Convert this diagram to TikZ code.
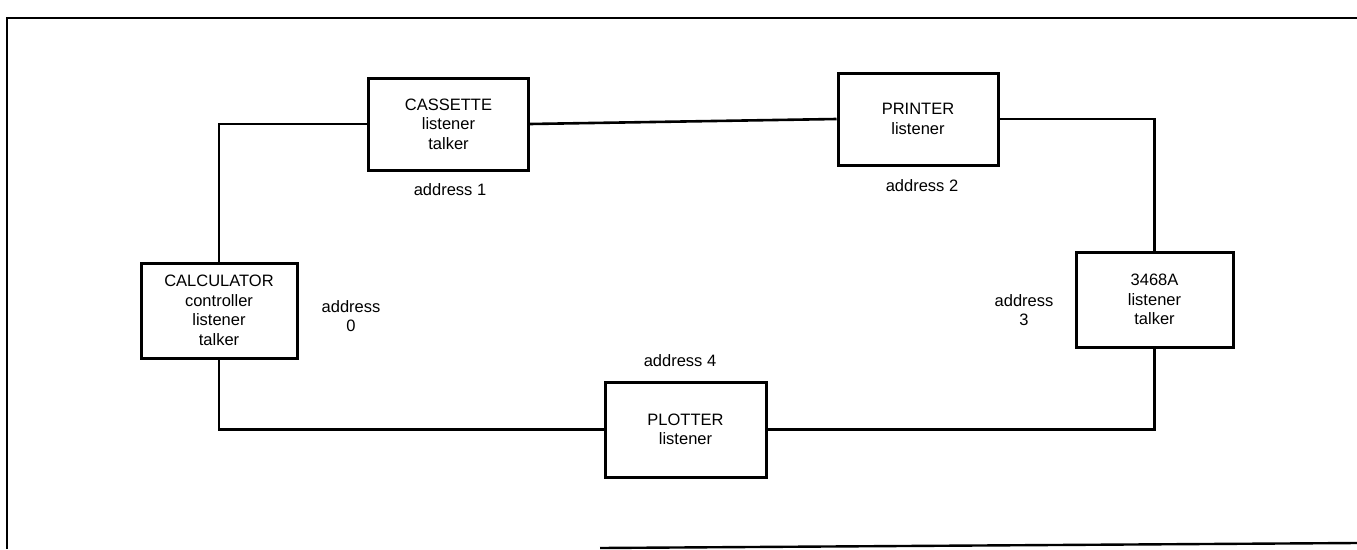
\documentclass[tikz,border=0pt]{standalone}
\usepackage{fontspec}
\setmainfont{Liberation Sans}
\begin{document}
\begin{tikzpicture}[x=1pt,y=-1pt,
  box/.style={draw, line width=3pt, align=center, inner sep=0pt,
    font=\fontsize{16.5}{19.5}\selectfont},
  conn/.style={line width=2.6pt},
  frame/.style={line width=2.4pt},
  lbl/.style={align=center, inner sep=0pt, font=\fontsize{16.5}{19.5}\selectfont}]
\useasboundingbox (0,0) rectangle (1357,549);
% frame
\coordinate (f1) at (7,549);
\coordinate (f2) at (7,18);
\coordinate (f3) at (1357,18);
\coordinate (f4) at (600,548);
\coordinate (f5) at (1357,543);
\draw[frame] (f1) -- (f2) -- (f3);
\draw[frame] (f4) -- (f5);
% devices
\node[box, minimum width=156pt, minimum height=95pt] (calc) at (219,310.5) {CALCULATOR\\controller\\listener\\talker};
\node[box, minimum width=160pt, minimum height=92pt] (cass) at (448.5,124) {CASSETTE\\listener\\talker};
\node[box, minimum width=160pt, minimum height=92pt] (print) at (918,119) {PRINTER\\listener};
\node[box, minimum width=157pt, minimum height=95pt] (dev) at (1154.5,299.5) {3468A\\listener\\talker};
\node[box, minimum width=161pt, minimum height=95pt] (plot) at (685.5,429.5) {PLOTTER\\listener};
% labels
\node[lbl] (a0) at (351,316) {address\\0};
\node[lbl] (a1) at (450,190) {address 1};
\node[lbl] (a2) at (922,186) {address 2};
\node[lbl] (a3) at (1024,310) {address\\3};
\node[lbl] (a4) at (680,361) {address 4};
% connectors
\draw[conn] (calc.north) |- (cass.west);
\draw[conn] (cass.east) -- (print.west);
\draw[conn] (print.east) -| (dev.north);
\draw[conn] (dev.south) |- (plot.east);
\draw[conn] (calc.south) |- (plot.west);
\end{tikzpicture}
\end{document}
